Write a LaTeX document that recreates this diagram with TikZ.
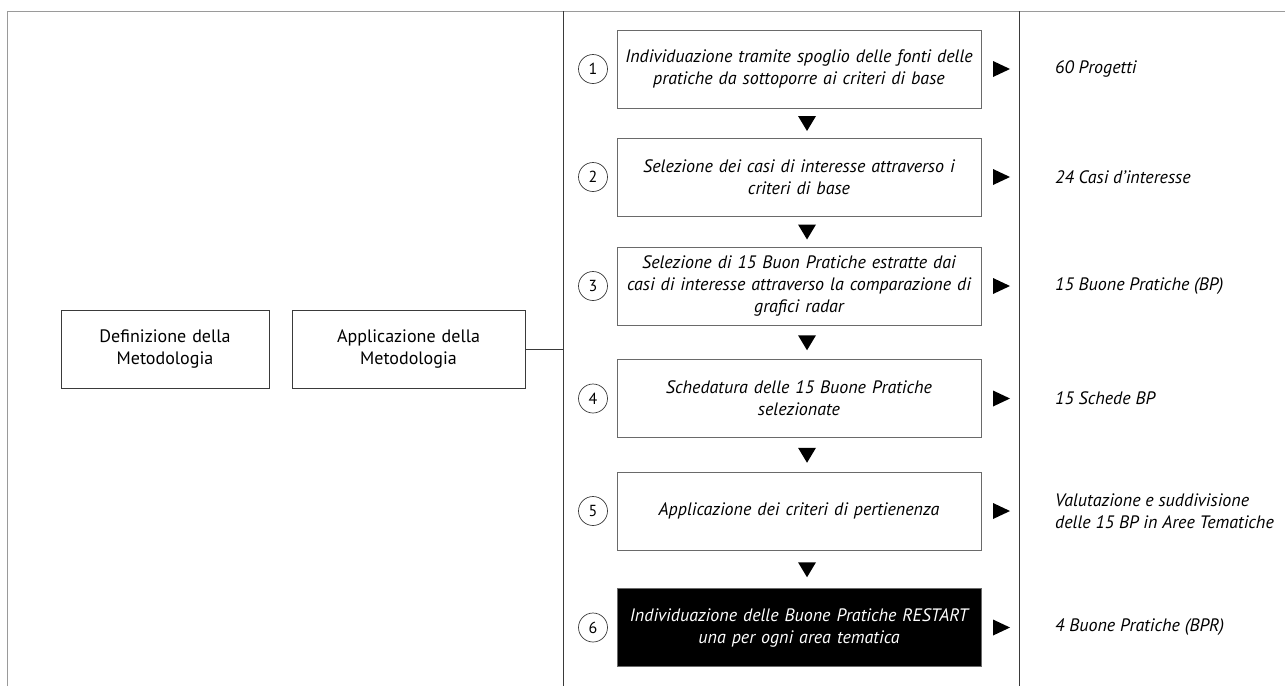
\documentclass[tikz,border=0pt]{standalone}
\usepackage{fontspec}
\setmainfont{PT Sans}
\usetikzlibrary{positioning,calc}
\definecolor{framegray}{HTML}{9A9A9A}
\definecolor{linedark}{HTML}{3A3A3A}
\definecolor{boxgray}{HTML}{6A6A6A}
\begin{document}
\begin{tikzpicture}[x=1pt,y=-1pt,
  every node/.style={font=\fontsize{18}{22}\selectfont},
  stepbox/.style={draw=boxgray, line width=0.8pt, minimum width=364pt, minimum height=78pt, text width=356pt, align=center, inner sep=0pt, font=\fontsize{18}{22}\selectfont\itshape},
  sidebox/.style={draw=linedark, line width=0.8pt, minimum width=208pt, minimum height=78pt, text width=200pt, align=center, inner sep=0pt},
  numcirc/.style={draw=linedark, circle, line width=0.7pt, minimum size=29pt, inner sep=0pt, font=\fontsize{16}{16}\selectfont},
  result/.style={anchor=west, align=left, inner sep=0pt, font=\fontsize{18}{22}\selectfont\itshape}
]
\useasboundingbox (0,0) rectangle (1285,686);
% frame
\draw[framegray, line width=1pt] (7,686) -- (7,11) -- (1285,11);
\draw[linedark, line width=1pt] (563,11) -- (563,686);
\draw[linedark, line width=1pt] (1019,11) -- (1019,686);

% left boxes
\node[sidebox] (def) at (165,349) {Definizione della\\Metodologia};
\node[sidebox, minimum width=233pt] (app) at (408.5,349) {Applicazione della\\Metodologia};
\coordinate (junc) at (563,349);
\draw[linedark, line width=1pt] (app.east) -- (junc);

% steps
\foreach \i/\y in {1/69,2/177,3/286,4/398.5,5/511,6/627.5}{
  \node[numcirc] (c\i) at (593,\y) {\i};
  \coordinate (r\i) at (1001,\y);
  \fill ([shift={(-8,-8)}]r\i) -- ([shift={(9,0)}]r\i) -- ([shift={(-8,8)}]r\i) -- cycle;
}
\node[stepbox] (s1) at (799,69) {Individuazione tramite spoglio delle fonti delle\\pratiche da sottoporre ai criteri di base};
\node[stepbox] (s2) at (799,177) {Selezione dei casi di interesse attraverso i\\criteri di base};
\node[stepbox] (s3) at (799,286) {Selezione di 15 Buon Pratiche estratte dai\\casi di interesse attraverso la comparazione di\\grafici radar};
\node[stepbox] (s4) at (799,398.5) {Schedatura delle 15 Buone Pratiche\\selezionate};
\node[stepbox] (s5) at (799,511) {Applicazione dei criteri di pertienenza};
\node[stepbox, fill=black, draw=boxgray, text=white] (s6) at (799,627.5) {Individuazione delle Buone Pratiche RESTART\\una per ogni area tematica};

% down triangles
\foreach \a/\b in {1/2,2/3,3/4,4/5,5/6}{
  \coordinate (d\a) at ($(s\a.south)!0.5!(s\b.north)+(8,0)$);
  \fill ([shift={(-9,-7)}]d\a) -- ([shift={(9,-7)}]d\a) -- ([shift={(0,8)}]d\a) -- cycle;
}

% results
\node[result] (o1) at (1055,69) {60 Progetti};
\node[result] (o2) at (1055,177) {24 Casi d’interesse};
\node[result] (o3) at (1055,286) {15 Buone Pratiche (BP)};
\node[result] (o4) at (1055,398.5) {15 Schede BP};
\node[result] (o5) at (1055,511) {Valutazione e suddivisione\\delle 15 BP in Aree Tematiche};
\node[result] (o6) at (1055,627.5) {4 Buone Pratiche (BPR)};
\end{tikzpicture}
\end{document}
